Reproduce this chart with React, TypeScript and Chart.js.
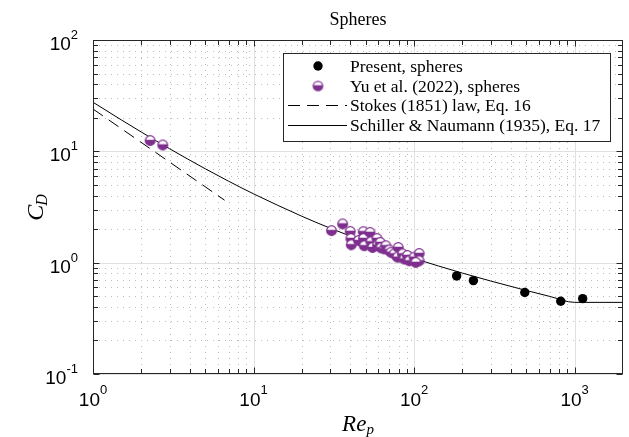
import React, { useEffect, useRef } from "react";
import { Chart, registerables } from "chart.js";

Chart.register(...registerables);

// ---------------- data ----------------
const presentRe = [184, 234, 489, 819, 1122];
const presentCd = [0.76, 0.69, 0.54, 0.45, 0.475];

const yuRe = [
  2.27, 2.72, 30.6, 35.9, 40.0, 40.4, 40.6, 45.1, 48.2, 48.4, 48.9, 53.1, 53.8, 55.1,
  58.7, 59.2, 61.5, 62.1, 65.1, 66.7, 69.9, 71.7, 75.1, 79.6, 78.8, 84.6, 86.7, 90.8,
  93.1, 100, 107.5, 107.5, 102.4,
];
const yuCd = [
  12.5, 11.4, 1.94, 2.23, 1.91, 1.65, 1.45, 1.58, 1.9, 1.65, 1.42, 1.87, 1.54, 1.37,
  1.65, 1.44, 1.52, 1.36, 1.33, 1.42, 1.3, 1.24, 1.2, 1.37, 1.12, 1.2, 1.08, 1.16,
  1.04, 1.12, 1.21, 1.04, 1.006,
];

const stokesRe = [1, 6.6];
const stokesCd = [24, 3.64];

const snRe = [1, 1.5, 2, 3, 5, 7, 10, 20, 30, 50, 100, 200, 300, 500, 700, 1000, 2000];
const snCd = [
  27.6, 19.17, 14.9, 10.55, 6.975, 5.386, 4.151, 2.61, 2.042, 1.538, 1.092, 0.806,
  0.684, 0.5626, 0.4975, 0.44, 0.44,
];

const xTickExps = [0, 1, 2, 3];
const yTickExps = [-1, 0, 1, 2];
const xMin = 1;
const xMax = 2000;
const yMin = 0.1;
const yMax = 100;

const titleText = "Spheres";
const legendLabels = [
  "Present, spheres",
  "Yu et al. (2022), spheres",
  "Stokes (1851) law, Eq. 16",
  "Schiller & Naumann (1935), Eq. 17",
];

const PURPLE = "#7E2F8E";
const SERIF = '"Liberation Serif", "DejaVu Serif", serif';
const SANS = '"Liberation Sans", Arial, sans-serif';

function makeHalfMarker(color: string, r: number) {
  const size = Math.ceil(r * 2 + 3);
  const c = document.createElement("canvas");
  c.width = size;
  c.height = size;
  const g = c.getContext("2d")!;
  const cx = size / 2;
  const cy = size / 2;
  g.beginPath();
  g.arc(cx, cy, r, 0, Math.PI * 2);
  g.fillStyle = "#ffffff";
  g.fill();
  // filled lower part (below a chord slightly above centre)
  const off = -0.15 * r;
  const ang = Math.asin(off / r);
  g.beginPath();
  g.arc(cx, cy, r, ang, Math.PI - ang);
  g.closePath();
  g.fillStyle = color;
  g.fill();
  g.beginPath();
  g.arc(cx, cy, r, 0, Math.PI * 2);
  g.strokeStyle = color;
  g.lineWidth = 1.3;
  g.stroke();
  return c;
}

function decadeValues(min: number, max: number) {
  const major: number[] = [];
  const minor: number[] = [];
  const d0 = Math.floor(Math.log10(min));
  const d1 = Math.ceil(Math.log10(max));
  for (let d = d0; d <= d1; d++) {
    const p = Math.pow(10, d);
    if (p >= min * 0.999 && p <= max * 1.001) major.push(p);
    for (let k = 2; k <= 9; k++) {
      const v = k * p;
      if (v > min * 1.001 && v < max * 0.999) minor.push(v);
    }
  }
  return { major, minor };
}

const decorPlugin = {
  id: "decor",
  beforeDatasetsDraw(chart: any) {
    const { ctx, chartArea: a, scales } = chart;
    const xs = scales.x;
    const ys = scales.y;
    const xv = decadeValues(xMin, xMax);
    const yv = decadeValues(yMin, yMax);
    ctx.save();
    ctx.lineWidth = 1;
    ctx.strokeStyle = "#bcbcbc";
    ctx.setLineDash([1, 5]);
    ctx.beginPath();
    xv.minor.forEach((v) => {
      const px = Math.round(xs.getPixelForValue(v)) + 0.5;
      ctx.moveTo(px, a.top);
      ctx.lineTo(px, a.bottom);
    });
    yv.minor.forEach((v) => {
      const py = Math.round(ys.getPixelForValue(v)) + 0.5;
      ctx.moveTo(a.left, py);
      ctx.lineTo(a.right, py);
    });
    ctx.stroke();
    ctx.setLineDash([]);
    ctx.strokeStyle = "#e0e0e0";
    ctx.beginPath();
    xv.major.forEach((v) => {
      const px = Math.round(xs.getPixelForValue(v)) + 0.5;
      ctx.moveTo(px, a.top);
      ctx.lineTo(px, a.bottom);
    });
    yv.major.forEach((v) => {
      const py = Math.round(ys.getPixelForValue(v)) + 0.5;
      ctx.moveTo(a.left, py);
      ctx.lineTo(a.right, py);
    });
    ctx.stroke();
    ctx.restore();
  },
  afterDatasetsDraw(chart: any) {
    const { ctx, chartArea: a, scales } = chart;
    const xs = scales.x;
    const ys = scales.y;
    const xv = decadeValues(xMin, xMax);
    const yv = decadeValues(yMin, yMax);
    ctx.save();
    ctx.strokeStyle = "#262626";
    ctx.lineWidth = 1;
    ctx.setLineDash([]);
    const L = Math.round(a.left) + 0.5;
    const R = Math.round(a.right) - 0.5;
    const T = Math.round(a.top) + 0.5;
    const B = Math.round(a.bottom) - 0.5;
    ctx.strokeRect(L, T, R - L, B - T);
    ctx.beginPath();
    const tick = (len: number, vals: number[], axis: "x" | "y") => {
      vals.forEach((v) => {
        if (axis === "x") {
          const px = Math.round(xs.getPixelForValue(v)) + 0.5;
          ctx.moveTo(px, B);
          ctx.lineTo(px, B - len);
          ctx.moveTo(px, T);
          ctx.lineTo(px, T + len);
        } else {
          const py = Math.round(ys.getPixelForValue(v)) + 0.5;
          ctx.moveTo(L, py);
          ctx.lineTo(L + len, py);
          ctx.moveTo(R, py);
          ctx.lineTo(R - len, py);
        }
      });
    };
    tick(6, xv.major, "x");
    tick(4.5, xv.minor, "x");
    tick(6, yv.major, "y");
    tick(4.5, yv.minor, "y");
    ctx.stroke();

    // tick labels
    ctx.fillStyle = "#000";
    ctx.textBaseline = "alphabetic";
    ctx.textAlign = "left";
    const baseFont = `19px ${SANS}`;
    const expFont = `13px ${SANS}`;
    const measure = (e: number) => {
      ctx.font = baseFont;
      const w1 = ctx.measureText("10").width;
      ctx.font = expFont;
      const w2 = ctx.measureText(String(e)).width;
      return [w1, w2];
    };
    xTickExps.forEach((e) => {
      const px = xs.getPixelForValue(Math.pow(10, e));
      const [w1, w2] = measure(e);
      const start = px - (w1 + w2) / 2;
      ctx.font = baseFont;
      ctx.fillText("10", start, 406);
      ctx.font = expFont;
      ctx.fillText(String(e), start + w1, 394);
    });
    yTickExps.forEach((e) => {
      const py = ys.getPixelForValue(Math.pow(10, e));
      const [w1, w2] = measure(e);
      const start = 78 - (w1 + w2);
      ctx.font = baseFont;
      ctx.fillText("10", start, py + 10);
      ctx.font = expFont;
      ctx.fillText(String(e), start + w1, py - 1);
    });

    // title
    ctx.font = `18px ${SERIF}`;
    ctx.textAlign = "center";
    ctx.fillText(titleText, (a.left + a.right) / 2, 25);

    // x label Re_p
    ctx.textAlign = "left";
    ctx.font = `italic 23px ${SERIF}`;
    const wRe = ctx.measureText("Re").width;
    ctx.font = `italic 15px ${SERIF}`;
    const wp = ctx.measureText("p").width;
    const sx = (a.left + a.right) / 2 - (wRe + wp) / 2;
    ctx.font = `italic 23px ${SERIF}`;
    ctx.fillText("Re", sx, 431);
    ctx.font = `italic 15px ${SERIF}`;
    ctx.fillText("p", sx + wRe, 434);

    // y label C_D
    ctx.save();
    ctx.translate(43, 207);
    ctx.rotate(-Math.PI / 2);
    ctx.font = `italic 24px ${SERIF}`;
    const wC = ctx.measureText("C").width;
    ctx.font = `italic 16px ${SERIF}`;
    const wD = ctx.measureText("D").width;
    const sy = -(wC + wD) / 2;
    ctx.font = `italic 24px ${SERIF}`;
    ctx.fillText("C", sy, 0);
    ctx.font = `italic 16px ${SERIF}`;
    ctx.fillText("D", sy + wC - 1, 4);
    ctx.restore();

    // legend
    const lx0 = 283.5;
    const ly0 = 53.5;
    const lx1 = 610.5;
    const ly1 = 141.5;
    ctx.fillStyle = "#fff";
    ctx.fillRect(lx0, ly0, lx1 - lx0, ly1 - ly0);
    ctx.strokeStyle = "#262626";
    ctx.lineWidth = 1;
    ctx.strokeRect(lx0, ly0, lx1 - lx0, ly1 - ly0);
    const rows = [66, 86, 105, 125];
    ctx.font = `17.5px ${SERIF}`;
    ctx.fillStyle = "#000";
    ctx.textAlign = "left";
    ctx.textBaseline = "middle";
    legendLabels.forEach((t, i) => ctx.fillText(t, 350, rows[i] + 1));
    ctx.beginPath();
    ctx.arc(318, rows[0], 4.7, 0, Math.PI * 2);
    ctx.fillStyle = "#000";
    ctx.fill();
    const hm = makeHalfMarker(PURPLE, 4.7);
    ctx.drawImage(hm, 318 - hm.width / 2, rows[1] - hm.height / 2);
    ctx.strokeStyle = "#000";
    ctx.lineWidth = 1;
    ctx.setLineDash([12, 7]);
    ctx.beginPath();
    ctx.moveTo(288, rows[2] + 0.5);
    ctx.lineTo(347, rows[2] + 0.5);
    ctx.stroke();
    ctx.setLineDash([]);
    ctx.beginPath();
    ctx.moveTo(288, rows[3] + 0.5);
    ctx.lineTo(347, rows[3] + 0.5);
    ctx.stroke();
    ctx.restore();
  },
};

export default function App() {
  const ref = useRef<HTMLCanvasElement | null>(null);
  useEffect(() => {
    document.body.style.margin = "0";
    const canvas = ref.current!;
    const halfMarker = makeHalfMarker(PURPLE, 4.8);
    const chart = new Chart(canvas, {
      type: "scatter",
      data: {
        datasets: [
          {
            label: legendLabels[0],
            data: presentRe.map((x, i) => ({ x, y: presentCd[i] })),
            pointRadius: 4.7,
            pointBackgroundColor: "#000",
            pointBorderColor: "#000",
            pointBorderWidth: 0,
            showLine: false,
          },
          {
            label: legendLabels[1],
            data: yuRe.map((x, i) => ({ x, y: yuCd[i] })),
            pointStyle: halfMarker as any,
            pointRadius: 4.8,
            showLine: false,
          },
          {
            label: legendLabels[2],
            data: stokesRe.map((x, i) => ({ x, y: stokesCd[i] })),
            showLine: true,
            pointRadius: 0,
            borderColor: "#000",
            borderWidth: 1,
            borderDash: [12, 7],
            fill: false,
          },
          {
            label: legendLabels[3],
            data: snRe.map((x, i) => ({ x, y: snCd[i] })),
            showLine: true,
            pointRadius: 0,
            borderColor: "#000",
            borderWidth: 1,
            cubicInterpolationMode: "monotone",
            fill: false,
          },
        ],
      },
      options: {
        animation: false,
        responsive: false,
        devicePixelRatio: 1,
        layout: { padding: { left: 93, right: 6, top: 40, bottom: 63 } },
        plugins: {
          legend: { display: false },
          tooltip: { enabled: false },
          title: { display: false },
        },
        scales: {
          x: { type: "logarithmic", min: xMin, max: xMax, display: false },
          y: { type: "logarithmic", min: yMin, max: yMax, display: false },
        },
      },
      plugins: [decorPlugin],
    });
    return () => chart.destroy();
  }, []);
  return (
    <div style={{ width: 629, height: 437, background: "#fff" }}>
      <canvas ref={ref} width={629} height={437} style={{ display: "block" }} />
    </div>
  );
}
